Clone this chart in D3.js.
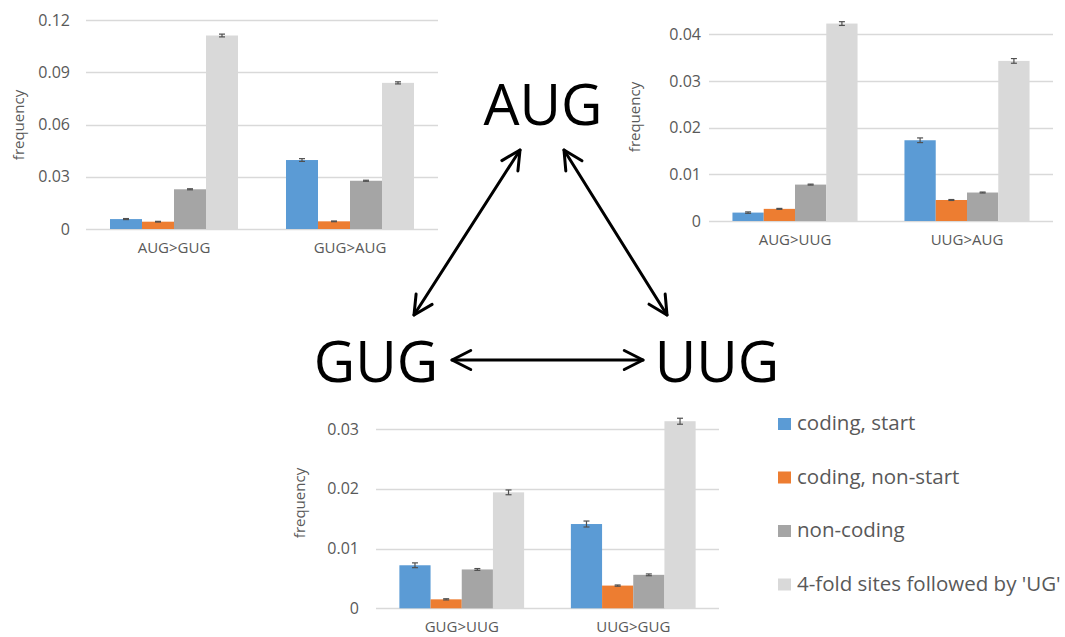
<!DOCTYPE html>
<html>
<head>
<meta charset="utf-8">
<script src="https://cdn.jsdelivr.net/npm/d3@7"></script>
<style>
  html, body { margin: 0; padding: 0; background: #fff; }
  svg { display: block; font-family: "Open Sans", sans-serif; }
</style>
</head>
<body>
<svg id="chart" width="1065" height="637"></svg>
<script>
// ---------- data ----------
const seriesNames = ["coding, start", "coding, non-start", "non-coding", "4-fold sites followed by 'UG'"];
const seriesColors = ["#5B9BD5", "#ED7D31", "#A5A5A5", "#D9D9D9"];

// Chart AUG <-> GUG (top left)
const catsAG = ["AUG>GUG", "GUG>AUG"];
const valsAG = [[0.0057, 0.0042, 0.0228, 0.1111], [0.0396, 0.0044, 0.0277, 0.0839]];
const errsAG = [[0.0003, 0.0002, 0.0003, 0.0008], [0.0008, 0.0002, 0.0003, 0.0006]];
const ticksAG = [0, 0.03, 0.06, 0.09, 0.12];

// Chart AUG <-> UUG (top right)
const catsAU = ["AUG>UUG", "UUG>AUG"];
const valsAU = [[0.0018, 0.0026, 0.0078, 0.0423], [0.0173, 0.0045, 0.0061, 0.0343]];
const errsAU = [[0.00015, 0.0001, 0.0001, 0.0004], [0.0005, 0.0001, 0.0001, 0.0005]];
const ticksAU = [0, 0.01, 0.02, 0.03, 0.04];

// Chart GUG <-> UUG (bottom)
const catsGU = ["GUG>UUG", "UUG>GUG"];
const valsGU = [[0.0072, 0.0015, 0.0065, 0.0194], [0.0141, 0.0038, 0.0056, 0.0313]];
const errsGU = [[0.0004, 0.0001, 0.00015, 0.0004], [0.0005, 0.0001, 0.00015, 0.0005]];
const ticksGU = [0, 0.01, 0.02, 0.03];

const codonLabels = ["AUG", "GUG", "UUG"];

// ---------- drawing ----------
const svg = d3.select("#chart");
const textColor = "#595959";
const gridColor = "#D9D9D9";
const fmt = d => d === 0 ? "0" : d3.format(".2f")(d);

function drawChart(cfg) {
  const { cats, vals, errs, ticks, x0, x1, yBottom, yTop, labelGap, freqX, freqY } = cfg;
  const g = svg.append("g");
  const y = d3.scaleLinear().domain([0, ticks[ticks.length - 1]]).range([yBottom, yTop]);
  const x = d3.scaleBand().domain(cats).range([x0, x1]).paddingInner(0.2727).paddingOuter(0.2727 / 2);
  const xs = d3.scaleBand().domain(d3.range(seriesNames.length)).range([0, x.bandwidth()]).padding(0);

  // gridlines
  g.append("g").selectAll("line").data(ticks).join("line")
    .attr("x1", x0).attr("x2", x1)
    .attr("y1", d => Math.round(y(d)) + 0.5).attr("y2", d => Math.round(y(d)) + 0.5)
    .attr("stroke", gridColor).attr("stroke-width", 1.3);

  // y axis labels
  const yAxis = d3.axisLeft(y).tickValues(ticks).tickFormat(fmt).tickSize(0).tickPadding(labelGap);
  const ya = g.append("g").attr("transform", `translate(${x0},0)`).call(yAxis);
  ya.select(".domain").remove();
  ya.selectAll("text").attr("fill", textColor).style("font-size", "16px").style("font-family", "'Open Sans', sans-serif");

  // x axis labels
  const xAxis = d3.axisBottom(x).tickSize(0).tickPadding(13);
  const xa = g.append("g").attr("transform", `translate(0,${yBottom})`).call(xAxis);
  xa.select(".domain").remove();
  xa.selectAll("text").attr("fill", textColor).style("font-size", "15px").style("font-family", "'Open Sans', sans-serif");

  // bars
  const groups = g.append("g").selectAll("g").data(cats).join("g")
    .attr("transform", d => `translate(${x(d)},0)`);
  groups.each(function (cat, ci) {
    const gg = d3.select(this);
    const rows = vals[ci].map((v, si) => ({ v, e: errs[ci][si], si }));
    gg.selectAll("rect").data(rows).join("rect")
      .attr("x", d => xs(d.si)).attr("width", xs.bandwidth())
      .attr("y", d => y(d.v)).attr("height", d => y(0) - y(d.v))
      .attr("fill", d => seriesColors[d.si]);
    // error bars
    const eb = gg.selectAll("g.eb").data(rows).join("g").attr("class", "eb")
      .attr("stroke", "#505050").attr("stroke-width", 1.2);
    eb.append("line")
      .attr("x1", d => xs(d.si) + xs.bandwidth() / 2).attr("x2", d => xs(d.si) + xs.bandwidth() / 2)
      .attr("y1", d => y(d.v - d.e)).attr("y2", d => y(d.v + d.e));
    eb.append("line")
      .attr("x1", d => xs(d.si) + xs.bandwidth() / 2 - 3).attr("x2", d => xs(d.si) + xs.bandwidth() / 2 + 3)
      .attr("y1", d => y(d.v + d.e)).attr("y2", d => y(d.v + d.e));
    eb.append("line")
      .attr("x1", d => xs(d.si) + xs.bandwidth() / 2 - 3).attr("x2", d => xs(d.si) + xs.bandwidth() / 2 + 3)
      .attr("y1", d => y(d.v - d.e)).attr("y2", d => y(d.v - d.e));
  });

  // axis title
  g.append("text")
    .attr("transform", `translate(${freqX},${freqY}) rotate(-90)`)
    .attr("text-anchor", "middle")
    .attr("fill", textColor)
    .style("font-size", "15px")
    .text("frequency");
}

drawChart({ cats: catsAG, vals: valsAG, errs: errsAG, ticks: ticksAG,
  x0: 86, x1: 438, yBottom: 229, yTop: 20, labelGap: 16, freqX: 24, freqY: 125 });
drawChart({ cats: catsAU, vals: valsAU, errs: errsAU, ticks: ticksAU,
  x0: 709, x1: 1053, yBottom: 221, yTop: 34.3, labelGap: 8, freqX: 640, freqY: 117 });
drawChart({ cats: catsGU, vals: valsGU, errs: errsGU, ticks: ticksGU,
  x0: 376, x1: 719, yBottom: 608.3, yTop: 429, labelGap: 17, freqX: 305, freqY: 503 });

// ---------- legend ----------
const legend = svg.append("g");
const leg = legend.selectAll("g").data(seriesNames).join("g")
  .attr("transform", (d, i) => `translate(778,${430 + i * 53.5})`);
leg.append("rect").attr("x", 0).attr("y", -12).attr("width", 13).attr("height", 12)
  .attr("fill", (d, i) => seriesColors[i]);
leg.append("text").attr("x", 19).attr("y", 0).attr("fill", textColor)
  .style("font-size", "20.5px").text(d => d);

// ---------- codon triangle ----------
const codonPos = [[543, 125], [376, 382], [717, 382]];
svg.append("g").selectAll("text").data(codonLabels).join("text")
  .attr("x", (d, i) => codonPos[i][0]).attr("y", (d, i) => codonPos[i][1])
  .attr("text-anchor", "middle").attr("fill", "#000")
  .style("font-size", "57px").text(d => d);

function doubleArrow(p1, p2) {
  const g = svg.append("g").attr("stroke", "#000").attr("stroke-width", 3)
    .attr("fill", "none").attr("stroke-linecap", "round").attr("stroke-linejoin", "round");
  g.append("line").attr("x1", p1[0]).attr("y1", p1[1]).attr("x2", p2[0]).attr("y2", p2[1]);
  const L = 21, a = 27 * Math.PI / 180;
  [[p1, p2], [p2, p1]].forEach(([tip, from]) => {
    const ang = Math.atan2(from[1] - tip[1], from[0] - tip[0]);
    const pts = [
      [tip[0] + L * Math.cos(ang + a), tip[1] + L * Math.sin(ang + a)],
      tip,
      [tip[0] + L * Math.cos(ang - a), tip[1] + L * Math.sin(ang - a)]
    ];
    g.append("path").attr("d", d3.line()(pts));
  });
}
doubleArrow([452, 360], [643, 360]);
doubleArrow([520, 150], [414, 315]);
doubleArrow([564, 150], [667, 315]);
</script>
</body>
</html>
